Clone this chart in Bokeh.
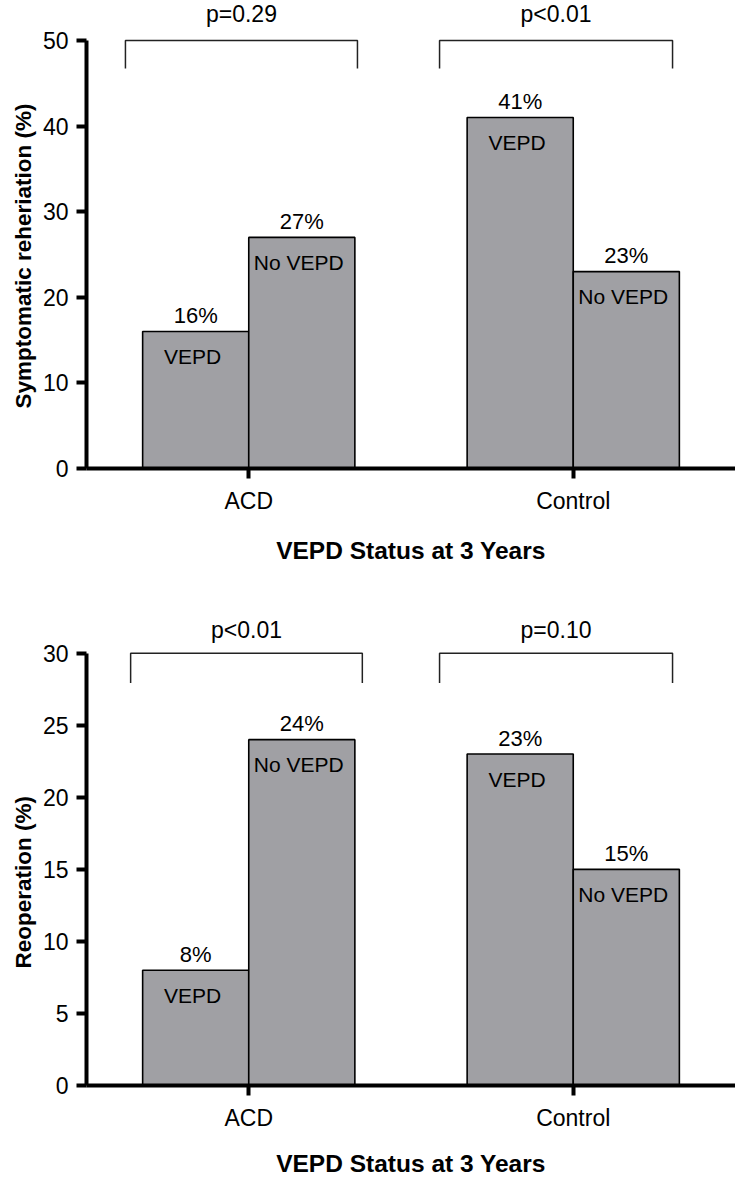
from bokeh.plotting import figure
from bokeh.models import ColumnDataSource, FixedTicker, Range1d, Title
from bokeh.layouts import column
from bokeh.embed import file_html
from bokeh.resources import INLINE
from bokeh.core.properties import value

# ---- data ----
groups = ["ACD", "Control"]
group_pos = [1, 2]
bar_names = ["VEPD", "No VEPD"]
rehern_values = [16, 27, 41, 23]   # ACD-VEPD, ACD-No VEPD, Control-VEPD, Control-No VEPD
reop_values = [8, 24, 23, 15]
rehern_p = ["p=0.29", "p<0.01"]
reop_p = ["p<0.01", "p=0.10"]
rehern_ticks = [0, 10, 20, 30, 40, 50]
reop_ticks = [0, 5, 10, 15, 20, 25, 30]

# bracket extents (x in category units)
rehern_br_x0 = [0.62, 1.588]
rehern_br_x1 = [1.335, 2.306]
reop_br_x0 = [0.636, 1.588]
reop_br_x1 = [1.35, 2.306]

FONT = "Liberation Sans"
BAR_W = 0.327
BAR_COLOR = "#a0a0a4"
FIG_W = 735
LEFT = 86
PX_PER_CAT = 324.5


def panel(values, pvals, ticks, ylabel, height, y_end, br_x0, br_x1, br_top, br_bot, p_y,
          min_bottom, xlab_standoff, ylab_offset):
    x0 = 0.5
    p = figure(width=FIG_W, height=height, output_backend="svg", toolbar_location=None,
               x_range=Range1d(x0, x0 + (FIG_W - LEFT) / PX_PER_CAT),
               y_range=Range1d(0, y_end),
               min_border_left=LEFT, min_border_right=0, min_border_top=0,
               min_border_bottom=min_bottom)
    xs, names = [], []
    for c in group_pos:
        xs += [c - BAR_W / 2, c + BAR_W / 2]
        names += bar_names
    src = ColumnDataSource(dict(x=xs, top=values, name=names,
                                pct=[f"{v}%" for v in values]))
    p.vbar(x="x", top="top", bottom=0, width=BAR_W, source=src, fill_color=BAR_COLOR,
           line_color="black", line_width=1.6)
    p.text(x="x", y="top", text="pct", source=src, text_align="center",
           text_baseline="middle", y_offset=-16, text_font=value(FONT),
           text_font_size="22px", text_color="black")
    p.text(x="x", y="top", text="name", source=src, text_align="center",
           text_baseline="middle", y_offset=25, x_offset=-3, text_font=value(FONT),
           text_font_size="21px", text_color="black")
    # significance brackets
    bxs = [[a, a, b, b] for a, b in zip(br_x0, br_x1)]
    bys = [[br_bot, br_top, br_top, br_bot] for _ in br_x0]
    p.multi_line(xs=bxs, ys=bys, line_color="#222222", line_width=1.5)
    p.text(x=[(a + b) / 2 for a, b in zip(br_x0, br_x1)], y=[p_y] * len(pvals), text=pvals,
           text_align="center", text_baseline="middle", text_font=value(FONT),
           text_font_size="23px", text_color="black")

    p.grid.visible = False
    p.outline_line_color = None
    p.background_fill_color = "white"

    ya = p.yaxis[0]
    ya.ticker = FixedTicker(ticks=ticks)
    ya.bounds = (ticks[0], ticks[-1])
    ya.axis_line_width = 4
    ya.major_tick_line_width = 4
    ya.major_tick_out = 10
    ya.major_tick_in = 0
    ya.minor_tick_line_color = None
    ya.major_label_standoff = 8
    ya.major_label_text_font = FONT
    ya.major_label_text_font_size = "23px"
    ya.major_label_text_color = "black"

    # y-axis title, placed so that it is centred on the axis bounds (as in the original)
    p.add_layout(Title(text=ylabel, align="left", offset=ylab_offset, standoff=8,
                       text_font=FONT, text_font_size="22.5px", text_font_style="bold",
                       text_color="black"), "left")

    xa = p.xaxis[0]
    xa.ticker = FixedTicker(ticks=group_pos)
    xa.major_label_overrides = {k: v for k, v in zip(group_pos, groups)}
    xa.axis_line_width = 4
    xa.major_tick_line_width = 4
    xa.major_tick_out = 10
    xa.major_tick_in = 0
    xa.minor_tick_line_color = None
    xa.major_label_standoff = 9
    xa.major_label_text_font = FONT
    xa.major_label_text_font_size = "23px"
    xa.major_label_text_color = "black"
    xa.axis_label = "VEPD Status at 3 Years"
    xa.axis_label_text_font = FONT
    xa.axis_label_text_font_size = "24.5px"
    xa.axis_label_text_font_style = "bold"
    xa.axis_label_text_color = "black"
    xa.axis_label_standoff = xlab_standoff
    return p


# top panel: 0..50 -> page y 468..40, frame top at page 0
h1 = 575
top_scale = (468 - 40) / 50.0
p1 = panel(rehern_values, rehern_p, rehern_ticks, "Symptomatic reheriation (%)",
           height=h1, y_end=50 + 40 / top_scale,
           br_x0=rehern_br_x0, br_x1=rehern_br_x1, br_top=50, br_bot=50 - 28 / top_scale,
           p_y=50 + 27 / top_scale, min_bottom=h1 - 468, xlab_standoff=20,
           ylab_offset=60)

# bottom panel: 0..30 -> page y 1087..653
start2 = h1
h2 = 1179 - start2
bot_scale = (1087 - 653) / 30.0
p2 = panel(reop_values, reop_p, reop_ticks, "Reoperation (%)",
           height=h2, y_end=30 + (653 - start2) / bot_scale,
           br_x0=reop_br_x0, br_x1=reop_br_x1, br_top=30, br_bot=30 - 30 / bot_scale,
           p_y=30 + 23 / bot_scale, min_bottom=h2 - (1087 - start2), xlab_standoff=16,
           ylab_offset=117)

layout = column(p1, p2, spacing=0)
open("out.html", "w").write(file_html(layout, INLINE))
